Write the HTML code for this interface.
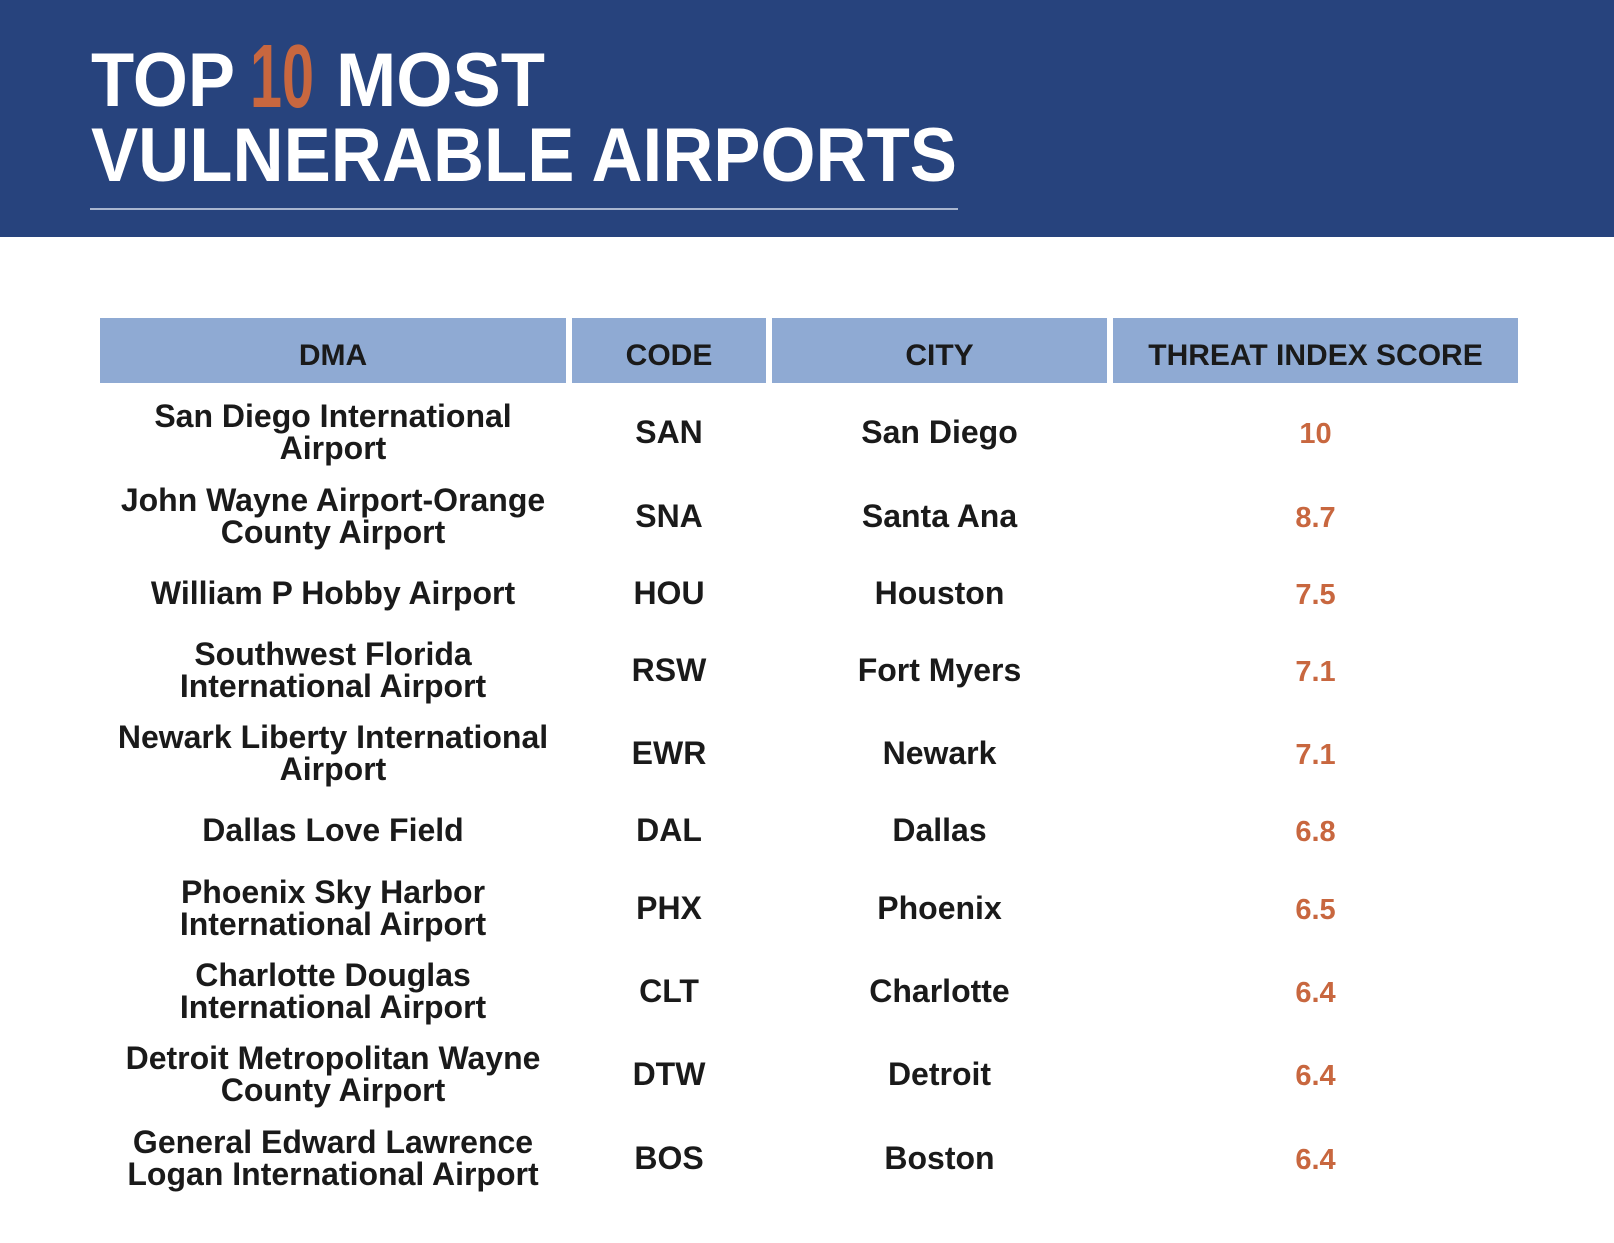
<!DOCTYPE html>
<html><head><meta charset="utf-8"><style>
html,body{margin:0;padding:0;background:#fff;}
svg{display:block;font-family:"Liberation Sans",sans-serif;}
</style></head><body>
<svg width="1614" height="1243" viewBox="0 0 1614 1243">
<rect x="0" y="0" width="1614" height="237" fill="#27437d"/>
<g font-weight="bold" fill="#fff">
<text x="91" y="106" font-size="76" textLength="144" lengthAdjust="spacingAndGlyphs">TOP</text>
<text x="250" y="107" font-size="90" fill="#c8673f" textLength="64" lengthAdjust="spacingAndGlyphs">10</text>
<text x="336" y="106" font-size="76" textLength="209" lengthAdjust="spacingAndGlyphs">MOST</text>
<text x="91" y="181" font-size="76" textLength="866" lengthAdjust="spacingAndGlyphs">VULNERABLE AIRPORTS</text>
</g>
<rect x="90" y="208" width="868" height="2" fill="#a9b6cf"/>
<g id="hdr"></g>
<g id="body"></g>
</svg>
<script>
const dma=[["San Diego International","Airport"],["John Wayne Airport-Orange","County Airport"],["William P Hobby Airport"],["Southwest Florida","International Airport"],["Newark Liberty International","Airport"],["Dallas Love Field"],["Phoenix Sky Harbor","International Airport"],["Charlotte Douglas","International Airport"],["Detroit Metropolitan Wayne","County Airport"],["General Edward Lawrence","Logan International Airport"]];
const codes=["SAN","SNA","HOU","RSW","EWR","DAL","PHX","CLT","DTW","BOS"];
const cities=["San Diego","Santa Ana","Houston","Fort Myers","Newark","Dallas","Phoenix","Charlotte","Detroit","Boston"];
const scores=["10","8.7","7.5","7.1","7.1","6.8","6.5","6.4","6.4","6.4"];
const headers=["DMA","CODE","CITY","THREAT INDEX SCORE"];
const NS="http://www.w3.org/2000/svg";
const cols=[[100,566],[572,766],[772,1107],[1113,1518]];
const rowY=[432,516,593,670,753,830,908,991,1074,1158];
const hdr=document.getElementById('hdr'),body=document.getElementById('body');
function t(parent,x,y,s,size,fill){const e=document.createElementNS(NS,'text');e.setAttribute('x',x);e.setAttribute('y',y);e.setAttribute('text-anchor','middle');e.setAttribute('font-size',size);e.setAttribute('font-weight','bold');e.setAttribute('fill',fill);e.textContent=s;parent.appendChild(e);return e;}
headers.forEach((h,i)=>{
 const r=document.createElementNS(NS,'rect');
 r.setAttribute('x',cols[i][0]);r.setAttribute('y',318);r.setAttribute('width',cols[i][1]-cols[i][0]);r.setAttribute('height',65);r.setAttribute('fill','#8faad3');
 
 
 hdr.appendChild(r);
 const e=t(hdr,(cols[i][0]+cols[i][1])/2,365,h,30,'#1a1a1a');
 
 
});
dma.forEach((lines,i)=>{
 const y=rowY[i];
 const cx=(cols[0][0]+cols[0][1])/2;
 lines.forEach((ln,j)=>{
  const off=lines.length===1?0:(j===0?-16:16);
  const e=t(body,cx,y+off+11,ln,32,'#1a1a1a');
  
  
 });
 let e=t(body,(cols[1][0]+cols[1][1])/2,y+11,codes[i],32,'#1a1a1a');
 
 
 e=t(body,(cols[2][0]+cols[2][1])/2,y+11,cities[i],32,'#1a1a1a');
 
 
 e=t(body,(cols[3][0]+cols[3][1])/2,y+11,scores[i],29,'#c8673f');
 
 
});
</script>
</body></html>
